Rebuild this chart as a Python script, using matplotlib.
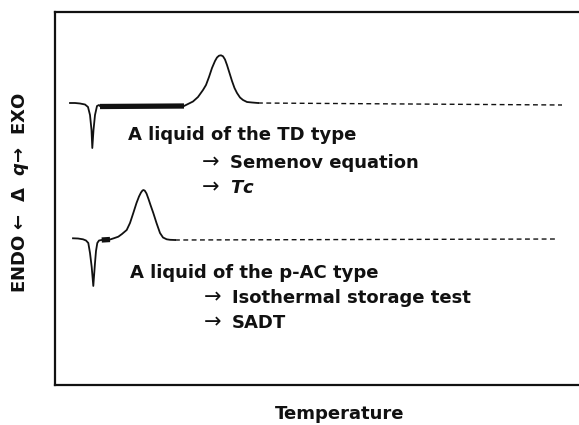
import matplotlib
matplotlib.use("Agg")
import matplotlib.pyplot as plt

plt.rcParams['font.family'] = ['DejaVu Sans']
plt.rcParams['font.weight'] = 'bold'
plt.rcParams['mathtext.fontset'] = 'custom'
plt.rcParams['mathtext.it'] = 'DejaVu Sans:italic:bold'
plt.rcParams['mathtext.rm'] = 'DejaVu Sans:bold'
plt.rcParams['mathtext.sf'] = 'DejaVu Sans'

# DSC trace of the TD type liquid
td_temp = [70, 75, 80, 85, 88, 90, 91.5, 92.3, 93.5, 95, 97, 99, 100]
td_q = [282, 282, 281.5, 280.5, 278, 270, 255, 237, 255, 270, 279, 280, 279]
td_flat_temp = [100, 184]
td_flat_q = [278.5, 279]
td_peak_temp = [184, 188, 193, 198, 203, 206, 209, 212, 215, 217, 219, 221, 223, 225, 227,
                229.5, 232, 234.5, 237, 240, 243, 247, 252, 258]
td_peak_q = [279, 281, 283.5, 288, 295, 300, 308, 317, 324, 327.5, 329.3, 329.7, 328.7, 325.5,
             320, 312, 304, 297, 292, 287.5, 285, 283, 282.5, 282]
td_dash_temp = [258, 562]
td_dash_q = [282, 280]

# DSC trace of the p-AC type liquid
pac_temp = [73, 78, 83, 86, 88.3, 90, 91.7, 93.3, 95, 96, 97.3, 99, 101.7]
pac_q = [146.7, 146.5, 145.7, 144.5, 142, 132, 118, 99, 122, 134, 142, 144.5, 145]
pac_flat_temp = [101.7, 110]
pac_flat_q = [145, 145.5]
pac_peak_temp = [110, 114, 118.3, 122, 126.7, 130, 133.3, 136.5, 139, 141, 142.5, 143.5, 144.8,
                 146.5, 148.5, 150.5, 153.3, 156.5, 160, 163, 166.7, 170, 175]
pac_peak_q = [145.5, 146.8, 148.3, 151, 155, 162, 172, 182, 188.5, 192.5, 194.5, 195, 194.3,
              191.5, 186, 180, 172, 162, 152, 147.5, 145.7, 145.2, 145]
pac_dash_temp = [175, 558]
pac_dash_q = [145, 146]

fig = plt.figure(figsize=(5.79, 4.25), dpi=100)
ax = fig.add_axes([55 / 579, 40 / 425, 524 / 579, 373 / 425])

lc = '#111111'
ax.plot(td_temp, td_q, color=lc, lw=1.3)
ax.plot(td_flat_temp, td_flat_q, color=lc, lw=3.8, solid_capstyle='butt')
ax.plot(td_peak_temp, td_peak_q, color=lc, lw=1.3)
ax.plot(td_dash_temp, td_dash_q, color=lc, lw=1.0, dashes=(3.5, 2.5))

ax.plot(pac_temp, pac_q, color=lc, lw=1.3)
ax.plot(pac_flat_temp, pac_flat_q, color=lc, lw=3.8, solid_capstyle='butt')
ax.plot(pac_peak_temp, pac_peak_q, color=lc, lw=1.3)
ax.plot(pac_dash_temp, pac_dash_q, color=lc, lw=1.0, dashes=(3.5, 2.5))

ax.set_xlim(55, 579)
ax.set_ylim(0, 373)

fs = 13
ax.text(128, 385 - 140, 'A liquid of the TD type', fontsize=fs, color=lc, va='baseline')
ax.text(202, 385 - 168, '→', fontsize=fs + 2, fontweight='normal', color=lc, va='baseline')
ax.text(230, 385 - 168, 'Semenov equation', fontsize=fs, color=lc, va='baseline')
ax.text(202, 385 - 193, '→', fontsize=fs + 2, fontweight='normal', color=lc, va='baseline')
ax.text(230, 385 - 193, r'$Tc$', fontsize=fs, color=lc, va='baseline')

ax.text(130, 385 - 278, 'A liquid of the p-AC type', fontsize=fs, color=lc, va='baseline')
ax.text(204, 385 - 303, '→', fontsize=fs + 2, fontweight='normal', color=lc, va='baseline')
ax.text(232, 385 - 303, 'Isothermal storage test', fontsize=fs, color=lc, va='baseline')
ax.text(204, 385 - 328, '→', fontsize=fs + 2, fontweight='normal', color=lc, va='baseline')
ax.text(232, 385 - 328, 'SADT', fontsize=fs, color=lc, va='baseline')

for s in ['left', 'top', 'bottom']:
    ax.spines[s].set_linewidth(1.6)
    ax.spines[s].set_color(lc)
ax.spines['right'].set_visible(False)
ax.set_xticks([])
ax.set_yticks([])

fig.text(21 / 579, 1 - 193 / 425, r'ENDO ←  $\mathsf{\Delta}$  $q$→  EXO', rotation=90,
         fontsize=13, color=lc, ha='center', va='center')
fig.text(340 / 579, 1 - 414 / 425, 'Temperature', fontsize=13, color=lc,
         ha='center', va='center')

fig.savefig('out.png', dpi=100)
